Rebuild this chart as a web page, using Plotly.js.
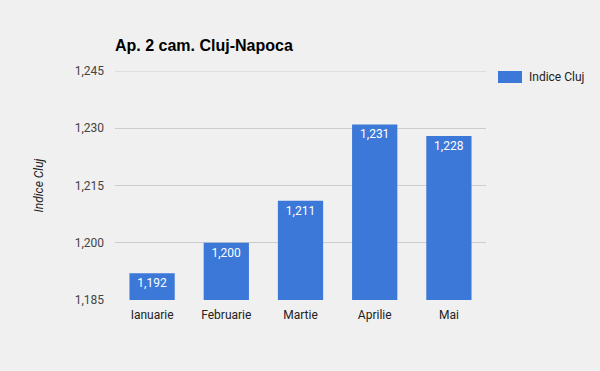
<!DOCTYPE html>
<html><head><meta charset="utf-8">
<script src="https://cdn.plot.ly/plotly-3.0.1.min.js"></script>
<style>body{margin:0;background:#f0f0f0}#c{width:600px;height:371px}</style>
</head><body><div id="c"></div>
<script>
const months = ["Ianuarie", "Februarie", "Martie", "Aprilie", "Mai"];
const values = [1192, 1200, 1211, 1231, 1228];
const seriesName = "Indice Cluj";
const chartTitle = "Ap. 2 cam. Cluj-Napoca";
const yTicks = [1185, 1200, 1215, 1230, 1245];

const trace = {
  type: "bar", x: months, y: values, name: seriesName,
  marker: {color: "#3c78d8"},
  text: values.map(v => v.toLocaleString("en-US")),
  textposition: "inside", insidetextanchor: "end",
  textfont: {family: "Roboto", size: 12, color: "#ffffff"},
  cliponaxis: false, hoverinfo: "none"
};
const layout = {
  width: 600, height: 371,
  paper_bgcolor: "#f0f0f0", plot_bgcolor: "#f0f0f0",
  margin: {l: 115, r: 114, t: 71, b: 71},
  showlegend: false, bargap: 0.39,
  title: {text: "<b>" + chartTitle + "</b>", x: 115/600, xanchor: "left", y: 1 - 45/371, yanchor: "middle",
    font: {family: "Liberation Sans, Arial", size: 16, color: "#000"}},
  xaxis: {tickfont: {family: "Roboto", size: 12, color: "#222"}, showgrid: false, zeroline: false, showline: false,
    ticks: "", ticklabelstandoff: 6},
  yaxis: {range: [1185, 1245], tickvals: yTicks, ticktext: yTicks.map(v => v.toLocaleString("en-US")),
    tickfont: {family: "Roboto", size: 12, color: "#444"}, gridcolor: "#cccccc", gridwidth: 1, zeroline: false,
    showline: false, ticks: "", ticklabelstandoff: 10,
    title: {text: "<i>" + seriesName + "</i>", font: {family: "Roboto", size: 12, color: "#222"}, standoff: 28}},
  shapes: [
    {type: "line", xref: "paper", yref: "y", x0: 0, x1: 1, y0: yTicks[yTicks.length-1], y1: yTicks[yTicks.length-1],
      line: {color: "#cccccc", width: 1}, layer: "below"},
    {type: "rect", xref: "paper", yref: "paper", x0: (498-115)/371, x1: (522-115)/371,
    y0: (300-83)/229, y1: (300-71)/229, fillcolor: "#3c78d8", line: {width: 0}}],
  annotations: [{text: seriesName, xref: "paper", yref: "paper", x: (527-115)/371, xanchor: "left",
    y: (300-77)/229, yanchor: "middle", showarrow: false, font: {family: "Roboto", size: 12, color: "#222"}}]
};
Plotly.newPlot("c", [trace], layout, {displayModeBar: false, staticPlot: true});
</script></body></html>
